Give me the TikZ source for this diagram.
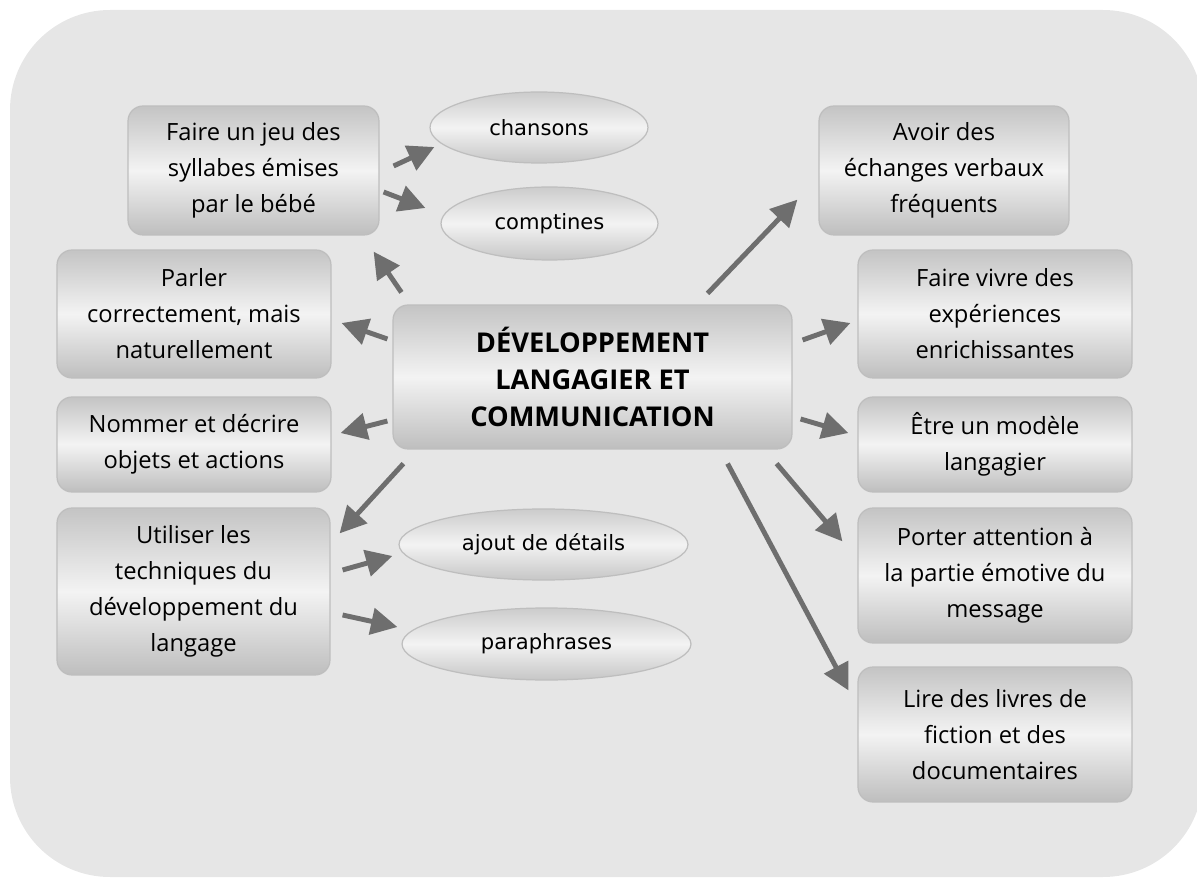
\documentclass[tikz,border=0pt]{standalone}
\usepackage{fontspec}
\usetikzlibrary{arrows.meta,shapes.geometric}
\newfontfamily\boxfont{Open Sans}
\newfontfamily\ovalfont{DejaVu Sans}
\definecolor{pagebg}{RGB}{230,230,230}
\definecolor{boxtop}{RGB}{196,196,196}
\definecolor{boxmid}{RGB}{243,243,243}
\definecolor{boxbot}{RGB}{190,190,190}
\definecolor{ovaltop}{RGB}{204,204,204}
\definecolor{ovalmid}{RGB}{243,243,243}
\definecolor{ovalbot}{RGB}{198,198,198}
\definecolor{edgegray}{RGB}{190,190,190}
\definecolor{arrowgray}{RGB}{110,110,110}
\begin{document}
\begin{tikzpicture}[x=0.02cm,y=-0.02cm,
  box/.style={rectangle, rounded corners=0.3cm, draw=edgegray, line width=0.7pt,
    top color=boxtop, bottom color=boxbot, middle color=boxmid,
    align=center, inner sep=0pt,
    font=\boxfont\fontsize{13.5}{20.5}\selectfont},
  hub/.style={box, font=\boxfont\bfseries\fontsize{15.5}{21}\selectfont},
  oval/.style={ellipse, draw=edgegray, line width=0.7pt,
    top color=ovaltop, bottom color=ovalbot, middle color=ovalmid,
    inner sep=0pt, font=\ovalfont\fontsize{12}{14}\selectfont},
  arr/.style={draw=arrowgray, line width=2.8pt, -{Triangle[length=15pt,width=15pt]}}]

% page area and rounded grey backdrop
\useasboundingbox (0,0) rectangle (1197,878);
\clip (0,0) rectangle (1197,878);
\fill[pagebg, rounded corners=2cm] (10,10) rectangle (1203,877);

% central topic
\node[hub, minimum width=7.98cm, minimum height=2.88cm] (c) at (592.5,377)
  {DÉVELOPPEMENT\\LANGAGIER ET\\COMMUNICATION};

% left column
\node[box, minimum width=5.02cm, minimum height=2.58cm] (A) at (253.5,170.5)
  {Faire un jeu des\\syllabes émises\\par le bébé};
\node[box, minimum width=5.48cm, minimum height=2.56cm] (P) at (194,314)
  {Parler\\correctement, mais\\naturellement};
\node[box, minimum width=5.48cm, minimum height=1.9cm] (N) at (194,444.5)
  {Nommer et décrire\\objets et actions};
\node[box, minimum width=5.46cm, minimum height=3.34cm] (U) at (193.5,591.5)
  {Utiliser les\\techniques du\\développement du\\langage};

% ovals
\node[oval, minimum width=4.36cm, minimum height=1.42cm] (ch) at (539,127.5) {chansons};
\node[oval, minimum width=4.34cm, minimum height=1.46cm] (cp) at (549.5,223.5) {comptines};
\node[oval, minimum width=5.78cm, minimum height=1.42cm] (aj) at (543.5,544.5) {ajout de détails};
\node[oval, minimum width=5.78cm, minimum height=1.44cm] (pa) at (546.5,644) {paraphrases};

% right column
\node[box, minimum width=5.0cm, minimum height=2.58cm] (Av) at (944,170.5)
  {Avoir des\\échanges verbaux\\fréquents};
\node[box, minimum width=5.48cm, minimum height=2.56cm] (F) at (995,314)
  {Faire vivre des\\expériences\\enrichissantes};
\node[box, minimum width=5.48cm, minimum height=1.9cm] (E) at (995,444.5)
  {Être un modèle\\langagier};
\node[box, minimum width=5.48cm, minimum height=2.7cm] (Po) at (995,575.5)
  {Porter attention à\\la partie émotive du\\message};
\node[box, minimum width=5.48cm, minimum height=2.7cm] (L) at (995,734.5)
  {Lire des livres de\\fiction et des\\documentaires};

% connectors
\draw[arr] ([shift={(9,-12)}]c.north west) -- ([shift={(-6,16)}]A.south east);
\draw[arr] ([shift={(14,-4.5)}]A.east) -- ([shift={(5,19.5)}]ch.west);
\draw[arr] ([shift={(4,21.5)}]A.east) -- ([shift={(-15,-15.5)}]cp.west);
\draw[arr] ([shift={(-5,-38)}]c.west) -- ([shift={(10,9)}]P.east);
\draw[arr] ([shift={(-5,44)}]c.west) -- ([shift={(9,-11.5)}]N.east);
\draw[arr] ([shift={(11,14)}]c.south west) -- ([shift={(9,26)}]U.north east);
\draw[arr] ([shift={(12,-21.5)}]U.east) -- ([shift={(-6,11.5)}]aj.west);
\draw[arr] ([shift={(12,23.5)}]U.east) -- ([shift={(-4,-17)}]pa.west);
\draw[arr] ([shift={(-85,-11)}]c.north east) -- ([shift={(-21,-36)}]Av.south west);
\draw[arr] ([shift={(10,-37)}]c.east) -- ([shift={(-7,9)}]F.west);
\draw[arr] ([shift={(8,42)}]c.east) -- ([shift={(-9,-11.5)}]E.west);
\draw[arr] ([shift={(-16,14)}]c.south east) -- ([shift={(-15,34)}]Po.north west);
\draw[arr] ([shift={(-65,14)}]c.south east) -- ([shift={(-9,24)}]L.north west);
\end{tikzpicture}
\end{document}
